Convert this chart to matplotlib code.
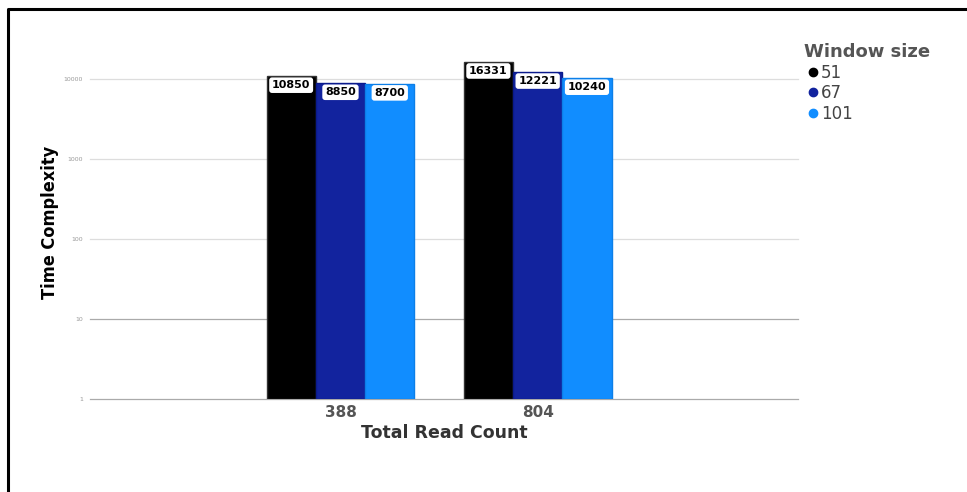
import numpy as np
import matplotlib.pyplot as plt
from matplotlib.lines import Line2D

# Dados
read_counts = ['388', '804']
window_sizes = ['51', '67', '101']
tempos_51 = [10850, 16331]
tempos_67 = [8850, 12221]
tempos_101 = [8700, 10240]
y_ticks = [1, 10, 100, 1000, 10000]

cores = ['#000000', '#12239E', '#118DFF']
bordas = ['#333333', '#0A1A8C', '#0C7FE8']

W, H = 967, 492
fig = plt.figure(figsize=(W / 100, H / 100), dpi=100)
ax = fig.add_axes([90 / W, 1 - 399 / H, (798 - 90) / W, (399 - 40) / H])

x = np.arange(len(read_counts))
largura = 0.25
series = [tempos_51, tempos_67, tempos_101]

ax.set_yscale('log')
ax.set_ylim(1, 10 ** 4.4875)
ax.set_xlim(-1.27, 2.32)

# Linhas de grade
for t in y_ticks:
    cor = '#aaaaaa' if t < 100 else '#dddddd'
    ax.axhline(t, color=cor, lw=0.9, zorder=0, clip_on=False)

for i, vals in enumerate(series):
    pos = x + (i - 1) * largura
    ax.bar(pos, vals, width=largura, bottom=1, color=cores[i],
           edgecolor=bordas[i], linewidth=1.0, zorder=2)
    for px, v in zip(pos, vals):
        ax.annotate(str(v), (px, v), xytext=(0, -6.5), textcoords='offset points',
                    ha='center', va='center', fontsize=8, fontweight='bold',
                    color='black', zorder=3,
                    bbox=dict(boxstyle='round,pad=0.25,rounding_size=0.25',
                              fc='white', ec='none'))

ax.set_yticks(y_ticks)
ax.set_yticklabels([str(t) for t in y_ticks], fontsize=4.5, color='#999999')
ax.yaxis.set_minor_locator(plt.NullLocator())
ax.tick_params(axis='y', length=0, pad=5)
ax.set_xticks(x)
ax.set_xticklabels(read_counts, fontsize=11, fontweight='bold', color='#555555')
ax.tick_params(axis='x', length=0, pad=4)
for s in ax.spines.values():
    s.set_visible(False)

ax.set_xlabel('Total Read Count', fontsize=12.5, fontweight='bold',
              color='#333333', labelpad=3)
fig.text(50 / W, 1 - 222 / H, 'Time Complexity', rotation=90, ha='center',
         va='center', fontsize=13, fontweight='bold', color='black',
         fontstretch='condensed', family=['DejaVu Sans'])

# Legenda
handles = [Line2D([], [], marker='o', ls='none', color=c, markersize=6)
           for c in cores]
leg = fig.legend(handles, window_sizes, title='Window size',
                 loc='upper left', bbox_to_anchor=(796 / W, 1 - 35 / H),
                 frameon=False, fontsize=12, handletextpad=0.0,
                 handlelength=1.0, labelspacing=0.15, borderpad=0,
                 alignment='left')
leg.get_title().set_fontweight('bold')
leg.get_title().set_fontsize(13)
leg.get_title().set_color('#555555')
for t in leg.get_texts():
    t.set_color('#444444')

# Moldura
fig.add_artist(Line2D([8 / W, 8 / W, 1], [0, 1 - 9 / H, 1 - 9 / H],
                      color='black', lw=2.2, transform=fig.transFigure))

fig.savefig('out.png', dpi=100)
